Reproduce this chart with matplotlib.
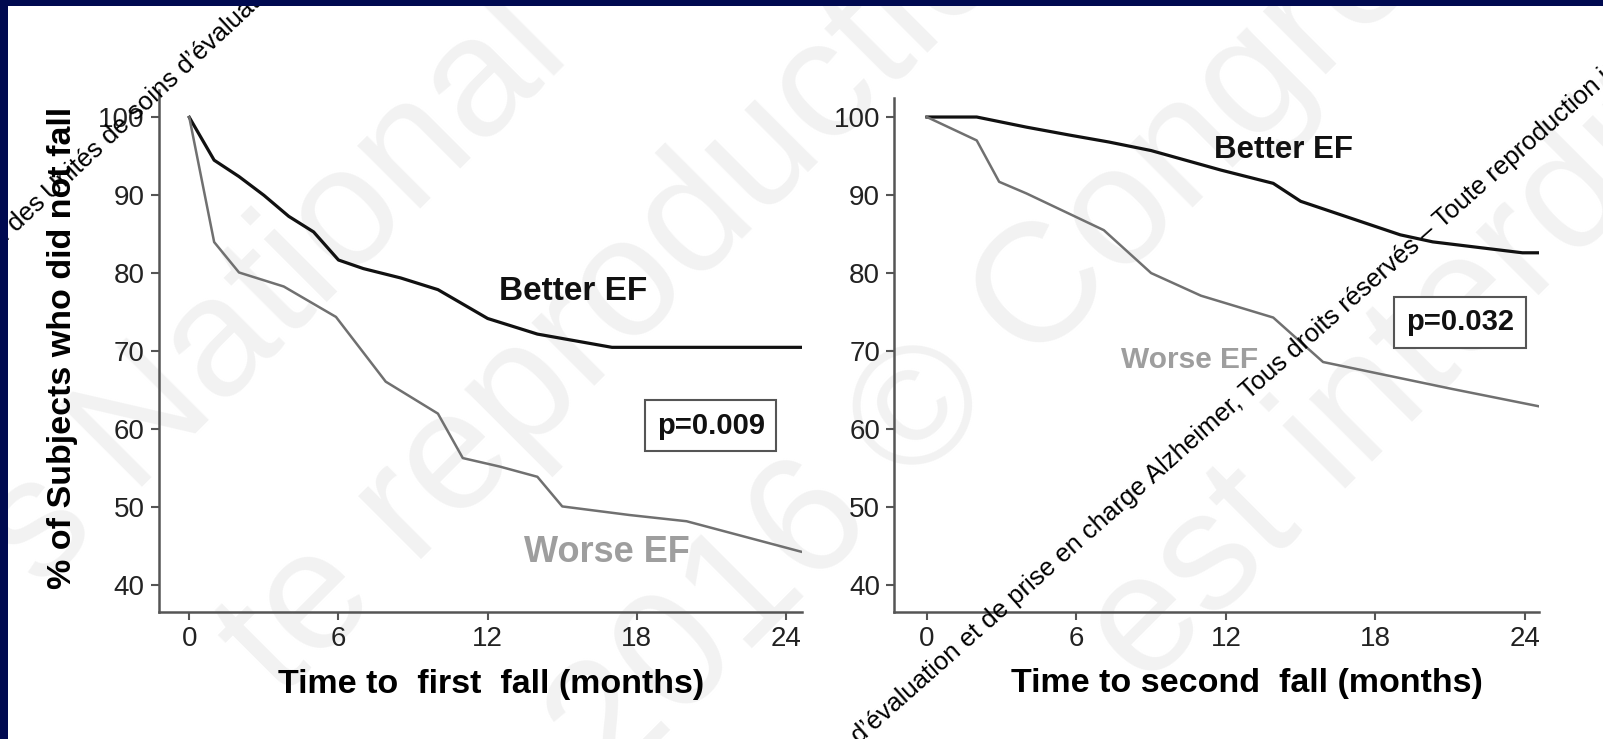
import matplotlib
matplotlib.use('Agg')
import matplotlib.pyplot as plt
from matplotlib.patches import Rectangle

plt.rcParams['font.family'] = ['Liberation Sans', 'DejaVu Sans']

W, H = 1603, 739

# Time to first fall (months) / % not fallen
first_months_better = [0, 1, 2, 3, 4, 5, 6, 7, 8.5, 10, 12, 14, 17, 24.6]
first_pct_better = [100, 94.5, 92.4, 90.0, 87.3, 85.3, 81.7, 80.6, 79.4, 77.9, 74.2, 72.2, 70.5, 70.5]
first_months_worse = [0, 1, 2, 3.8, 5.9, 7.9, 10, 11, 12.5, 14, 15, 17.7, 20, 24.6]
first_pct_worse = [100, 84.0, 80.1, 78.3, 74.4, 66.1, 62.0, 56.3, 55.2, 53.9, 50.1, 49.0, 48.2, 44.3]

# Time to second fall (months) / % not fallen
second_months_better = [0, 2, 4, 5.7, 7.3, 9, 11.8, 13.9, 15, 19, 20.3, 23.9, 24.6]
second_pct_better = [100, 100, 98.7, 97.7, 96.8, 95.7, 93.2, 91.5, 89.2, 84.9, 84.0, 82.6, 82.6]
second_months_worse = [0, 2, 2.9, 4, 7.1, 9, 11, 13.9, 15.9, 21, 24.6]
second_pct_worse = [100, 97.0, 91.7, 90.2, 85.5, 80.0, 77.1, 74.3, 68.6, 65.2, 62.9]

xticks = [0, 6, 12, 18, 24]
yticks = [40, 50, 60, 70, 80, 90, 100]
p_values = ['p=0.009', 'p=0.032']

BLACK = '#111111'
GREY = '#707070'
LABEL_GREY = '#9e9e9e'
SPINE = '#555555'


def fx(x):
    return x / W


def fy(y):
    return 1 - y / H


fig = plt.figure(figsize=(W / 100, H / 100), dpi=100)
fig.patch.set_facecolor('white')

# faint background watermark
faint = [('s National', 40, 590), ('te reproduction', 280, 700),
         ('2016 \u00a9 Congr\u00e8s', 610, 790), ('est interdite', 1145, 690)]
for txt, x, y in faint:
    fig.text(fx(x), fy(y), txt, fontsize=122, color='#f2f2f2', rotation=45,
             rotation_mode='anchor', ha='left', va='baseline', zorder=-1)

ax1 = fig.add_axes([fx(158.7), fy(611.7), (801.7 - 158.7) / W, (611.7 - 90) / H])
ax2 = fig.add_axes([fx(894), fy(611.7), (1538.6 - 894) / W, (611.7 - 98.3) / H])

ax1.plot(first_months_better, first_pct_better, color=BLACK, linewidth=2.3)
ax1.plot(first_months_worse, first_pct_worse, color=GREY, linewidth=1.8)
ax2.plot(second_months_better, second_pct_better, color=BLACK, linewidth=2.3)
ax2.plot(second_months_worse, second_pct_worse, color=GREY, linewidth=1.8)

ax1.set_xlim(-1.23, 24.63)
ax1.set_ylim(36.6, 103.5)
ax2.set_xlim(-1.32, 24.55)
ax2.set_ylim(36.6, 102.4)

for ax in (ax1, ax2):
    ax.patch.set_alpha(0)
    ax.set_xticks(xticks)
    ax.set_yticks(yticks)
    ax.spines['top'].set_visible(False)
    ax.spines['right'].set_visible(False)
    for s in ('left', 'bottom'):
        ax.spines[s].set_color(SPINE)
        ax.spines[s].set_linewidth(1.8)
    ax.tick_params(direction='out', length=6, width=1.5, color=SPINE,
                   labelsize=20, labelcolor='#222222', pad=4)

ax1.set_ylabel('% of Subjects who did not fall', fontsize=24.5, fontweight='bold', va='center')
ax1.yaxis.set_label_coords(-0.149, 0.505)
ax1.set_xlabel('Time to  first  fall (months)', fontsize=24.5, fontweight='bold', va='center')
ax1.xaxis.set_label_coords(0.517, -0.1405)
ax2.set_xlabel('Time to second  fall (months)', fontsize=24.5, fontweight='bold', va='center')
ax2.xaxis.set_label_coords(0.547, -0.1405)

ax1.text(15.42, 77.7, 'Better EF', fontsize=24, fontweight='bold', color=BLACK,
         ha='center', va='center')
ax1.text(16.8, 44.2, 'Worse EF', fontsize=26, fontweight='bold', color=LABEL_GREY,
         ha='center', va='center')
ax2.text(14.3, 95.8, 'Better EF', fontsize=22.5, fontweight='bold', color=BLACK,
         ha='center', va='center')
ax2.text(10.56, 68.8, 'Worse EF', fontsize=21.5, fontweight='bold', color=LABEL_GREY,
         ha='center', va='center')

box = dict(boxstyle='square,pad=0.4', facecolor='white', edgecolor=SPINE, linewidth=1.5)
ax1.text(20.97, 60.45, p_values[0], fontsize=21, fontweight='bold', color=BLACK,
         ha='center', va='center', bbox=box)
ax2.text(21.39, 73.7, p_values[1], fontsize=21, fontweight='bold', color=BLACK,
         ha='center', va='center', bbox=box)

# copyright watermark lines
wm_kw = dict(fontsize=18.5, color='black', rotation_mode='anchor',
             va='baseline', zorder=5)
fig.text(fx(52), fy(200), 'Congr\u00e8s National des ', ha='right', rotation=43, **wm_kw)
fig.text(fx(52), fy(200), 'Unit\u00e9s de soins d\u2019\u00e9valuation et de prise en charge Alzheimer',
         ha='left', rotation=43, **wm_kw)
fig.text(fx(1154), fy(484), 'des Unit\u00e9s de soins d\u2019\u00e9valuation et de prise en charge ',
         ha='right', rotation=41.5, **wm_kw)
fig.text(fx(1154), fy(484), 'Alzheimer, Tous droits r\u00e9serv\u00e9s \u2013 Toute reproduction interdite',
         ha='left', rotation=41.5, **wm_kw)

# navy slide frame
fig.add_artist(Rectangle((0, 0), fx(8), 1, transform=fig.transFigure,
                         facecolor='#000a50', edgecolor='none', zorder=10))
fig.add_artist(Rectangle((0, fy(6)), 1, 6 / H, transform=fig.transFigure,
                         facecolor='#000a50', edgecolor='none', zorder=10))

fig.savefig('out.png', dpi=100)
